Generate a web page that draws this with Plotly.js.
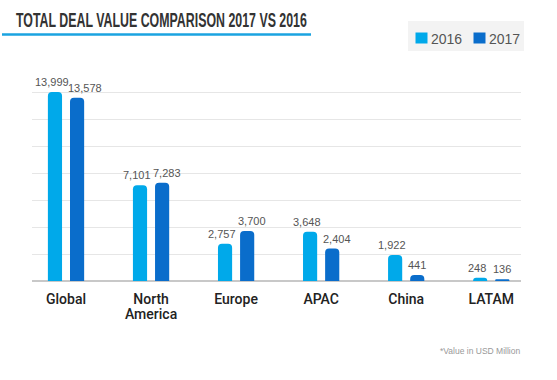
<!DOCTYPE html>
<html>
<head>
<meta charset="utf-8">
<script src="https://cdn.plot.ly/plotly-3.0.1.min.js"></script>
<style>html,body{margin:0;padding:0;background:#fff;}#chart{width:557px;height:380px;}</style>
</head>
<body>
<div id="chart"></div>
<script>
var categories = ["Global", "North<br>America", "Europe", "APAC", "China", "LATAM"];
var values2016 = [13999, 7101, 2757, 3648, 1922, 248];
var values2017 = [13578, 7283, 3700, 2404, 441, 136];
var seriesNames = ["2016", "2017"];
var seriesColors = ["#00A9EA", "#0A6DCB"];
var yTicks = [0, 2000, 4000, 6000, 8000, 10000, 12000, 14000, 16000];

function fmt(v){ return v.toLocaleString("en-US"); }

var labelFont = {family: "Liberation Sans, Arial, sans-serif", size: 11, color: "#555"};

var traces = [
  {type: "bar", name: seriesNames[0], x: categories, y: values2016,
   marker: {color: seriesColors[0], cornerradius: 4}, hoverinfo: "skip"},
  {type: "bar", name: seriesNames[1], x: categories, y: values2017,
   marker: {color: seriesColors[1], cornerradius: 4}, hoverinfo: "skip"}
];

// plot area in px: left 32, right 521, top 65, bottom 281
function px(xp){ return (xp - 32) / 489; }
function py(yp){ return (281 - yp) / 216; }

var annotations = [];
categories.forEach(function(c, i){
  annotations.push({x: c, y: values2016[i], xref: "x", yref: "y", text: fmt(values2016[i]),
    showarrow: false, xanchor: "center", yanchor: "bottom", xshift: -14, yshift: 2, font: labelFont});
  annotations.push({x: c, y: values2017[i], xref: "x", yref: "y", text: fmt(values2017[i]),
    showarrow: false, xanchor: "left", yanchor: "bottom", xshift: 0, yshift: 2, font: labelFont});
});
annotations.push({text: "*Value in USD Million", xref: "paper", yref: "paper", x: px(522), y: py(351),
  xanchor: "right", yanchor: "middle", showarrow: false,
  font: {family: "Liberation Sans, Arial, sans-serif", size: 8.5, color: "#999"}});

// legend (custom, top right)
var legendFont = {family: "Liberation Sans, Arial, sans-serif", size: 14, color: "#555"};
var legendSwatchX = [415.5, 473.5];
var legendTextX = [429, 487];
var shapes = [
  {type: "line", xref: "paper", yref: "paper", x0: px(2), x1: px(311), y0: py(34.5), y1: py(34.5),
   line: {color: "#1AA3E0", width: 2.5}},
  {type: "rect", xref: "paper", yref: "paper", x0: px(408), x1: px(524), y0: py(21), y1: py(51),
   fillcolor: "#f3f3f3", line: {width: 0}, layer: "below"}
];
seriesNames.forEach(function(n, i){
  shapes.push({type: "rect", xref: "paper", yref: "paper", x0: px(legendSwatchX[i]), x1: px(legendSwatchX[i] + 12),
    y0: py(32.5), y1: py(43.5), fillcolor: seriesColors[i], line: {width: 0}});
  annotations.push({text: n, xref: "paper", yref: "paper", x: px(legendTextX[i]), y: py(38.5),
    xanchor: "left", yanchor: "middle", showarrow: false, font: legendFont});
});

var layout = {
  width: 557, height: 380,
  margin: {l: 32, r: 36, t: 65, b: 99, pad: 0, autoexpand: false},
  paper_bgcolor: "#fff", plot_bgcolor: "#fff",
  barmode: "group", bargap: 0.48, bargroupgap: 0.36,
  showlegend: false,
  title: {text: "TOTAL DEAL VALUE COMPARISON 2017 VS 2016", x: 16/557, xanchor: "left", xref: "container",
          y: 1 - 20/380, yanchor: "middle", yref: "container",
          font: {family: "Liberation Sans, Arial, sans-serif", size: 20, color: "#333", weight: 700}},
  xaxis: {type: "category", range: [-0.4, 5.35], showgrid: false, zeroline: false,
          showline: false, ticks: "", ticklabelstandoff: 8,
          tickfont: {family: "Roboto, Liberation Sans, sans-serif", size: 14, color: "#222", weight: 500},
          fixedrange: true},
  yaxis: {range: [0, 16000], tickvals: yTicks, showticklabels: false, showgrid: true,
          gridcolor: "#e6e6e6", gridwidth: 1, zeroline: true, zerolinecolor: "#c8c8c8", zerolinewidth: 2,
          showline: false, fixedrange: true},
  shapes: shapes,
  annotations: annotations
};

Plotly.newPlot("chart", traces, layout, {displayModeBar: false, staticPlot: true}).then(function(gd){
  var t = gd.querySelector(".gtitle");
  if (t) {
    var w = t.getBBox().width;
    var x0 = parseFloat(t.getAttribute("x")) || 16;
    var s = 291 / w;
    var prev = t.getAttribute("transform") || "";
    t.setAttribute("transform", prev + " translate(" + x0 + ",0) scale(" + s + ",1) translate(" + (-x0) + ",0)");
  }
  gd.querySelectorAll(".xtick text tspan.line").forEach(function(sp){
    var dy = sp.getAttribute("dy");
    if (dy && dy.indexOf("1.3em") === 0) sp.setAttribute("dy", "1.05em");
  });
});
</script>
</body>
</html>
